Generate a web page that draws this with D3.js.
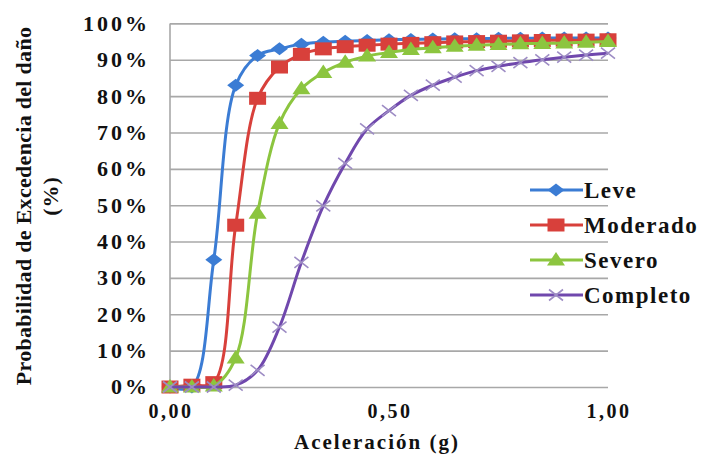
<!DOCTYPE html>
<html>
<head>
<meta charset="utf-8">
<script src="https://cdn.jsdelivr.net/npm/d3@7"></script>
<style>
  html, body { margin: 0; padding: 0; background: #ffffff; }
  svg { display: block; }
</style>
</head>
<body>
<svg id="chart" width="705" height="460" font-family="Liberation Serif"></svg>
<script>
// ---- data ----
const accel = [0.00,0.05,0.10,0.15,0.20,0.25,0.30,0.35,0.40,0.45,0.50,0.55,0.60,0.65,0.70,0.75,0.80,0.85,0.90,0.95,1.00];
const leve     = [0,0,35,83,91.2,93,94.3,94.8,95.1,95.3,95.5,95.6,95.7,95.8,95.8,95.9,95.9,96,96,96,96];
const moderado = [0,0.5,1.2,44.5,79.4,88,91.5,93,93.6,94,94.3,94.5,94.7,94.9,95,95.1,95.2,95.3,95.4,95.4,95.5];
const severo   = [0,0,0.3,8,47.8,72.5,82,86.5,89.3,91,92,92.8,93.3,93.7,94,94.2,94.4,94.5,94.6,94.8,95];
const completo = [0,0,0,0.5,4.6,16.5,34.3,49.8,61.5,71,76,80.2,83,85.2,87,88.2,89.2,90,90.7,91.3,91.8];
const seriesNames = ["Leve","Moderado","Severo","Completo"];
const yTicks = [0,10,20,30,40,50,60,70,80,90,100];
const xTicks = [0, 0.5, 1];
const xTickLabels = ["0,00","0,50","1,00"];
const xTitle = "Aceleración (g)";
const yTitle1 = "Probabilidad de Excedencia del daño";
const yTitle2 = "(%)";

// ---- styling ----
const colors = ["#3b7cd4", "#d8403b", "#8cc53f", "#7048ad"];
const markerColors = ["#3b7cd4", "#d8403b", "#8cc53f", "#9d8cc4"];
const svg = d3.select("#chart");
const L = 170, R = 608, T = 23.4, B = 387;
const x = d3.scaleLinear().domain([0, 1]).range([L, R]);
const y = d3.scaleLinear().domain([0, 100]).range([B, T]);

function txt(sel, size, ls) {
  return sel.attr("style", `font-family:'Liberation Serif';font-weight:bold;font-size:${size}px;letter-spacing:${ls || 0}px`)
    .attr("fill", "#111");
}

// gridlines
svg.append("g")
  .attr("transform", `translate(${L},0)`)
  .call(d3.axisLeft(y).tickValues(yTicks).tickSize(-(R - L)).tickFormat(""))
  .call(g => g.select(".domain").remove())
  .call(g => g.selectAll("line").attr("stroke", "#a8a8a8").attr("stroke-width", 1.6));
svg.append("line").attr("x1", L).attr("x2", L).attr("y1", y(100)).attr("y2", y(0))
  .attr("stroke", "#a8a8a8").attr("stroke-width", 1.6);

// y tick labels
txt(svg.append("g").selectAll("text").data(yTicks).join("text"), 22, 3)
  .attr("x", 150).attr("y", d => y(d))
  .attr("dy", "0.34em")
  .attr("text-anchor", "end")
  .text(d => d + "%");

// x tick labels
txt(svg.append("g").selectAll("text").data(xTicks).join("text"), 20, 2.5)
  .attr("x", d => x(d) + 1).attr("y", 418)
  .attr("text-anchor", "middle")
  .text((d, i) => xTickLabels[i]);

// axis titles
txt(svg.append("text"), 21, 2)
  .attr("x", 377).attr("y", 449)
  .attr("text-anchor", "middle")
  .text(xTitle);
txt(svg.append("text"), 22, 0.3)
  .attr("transform", `translate(31,206) rotate(-90)`)
  .attr("text-anchor", "middle")
  .text(yTitle1);
txt(svg.append("text"), 22, 1)
  .attr("transform", `translate(58,196) rotate(-90)`)
  .attr("text-anchor", "middle")
  .text(yTitle2);

// series
const allSeries = [leve, moderado, severo, completo];
const line = d3.line().x((d, i) => x(accel[i])).y(d => y(d)).curve(d3.curveCatmullRom.alpha(0.5));

const markerPaths = [
  "M0,-6.5L8.5,0L0,6.5L-8.5,0Z",
  "M-8.5,-6.5H8.5V6.5H-8.5Z",
  "M0,-8L9,5.5L-9,5.5Z",
  "M-7,-5.5L7,5.5M-7,5.5L7,-5.5"
];
function drawMarker(g, k, cx, cy) {
  const p = g.append("path").attr("d", markerPaths[k]).attr("transform", `translate(${cx},${cy})`);
  if (k === 3) p.attr("stroke", markerColors[k]).attr("stroke-width", 1.6).attr("fill", "none");
  else p.attr("fill", markerColors[k]);
}

allSeries.forEach((vals, k) => {
  const g = svg.append("g");
  g.append("path").datum(vals).attr("d", line)
    .attr("fill", "none").attr("stroke", colors[k]).attr("stroke-width", 3);
  vals.forEach((v, i) => drawMarker(g, k, x(accel[i]), y(v)));
});

// legend
const legY = [190, 225, 260, 295];
seriesNames.forEach((name, k) => {
  const g = svg.append("g");
  g.append("line").attr("x1", 530).attr("x2", 583).attr("y1", legY[k]).attr("y2", legY[k])
    .attr("stroke", colors[k]).attr("stroke-width", 3);
  drawMarker(g, k, 556, legY[k]);
  txt(g.append("text"), 23, 1.5)
    .attr("x", 584).attr("y", legY[k] + 8)
    .text(name);
});
</script>
</body>
</html>
